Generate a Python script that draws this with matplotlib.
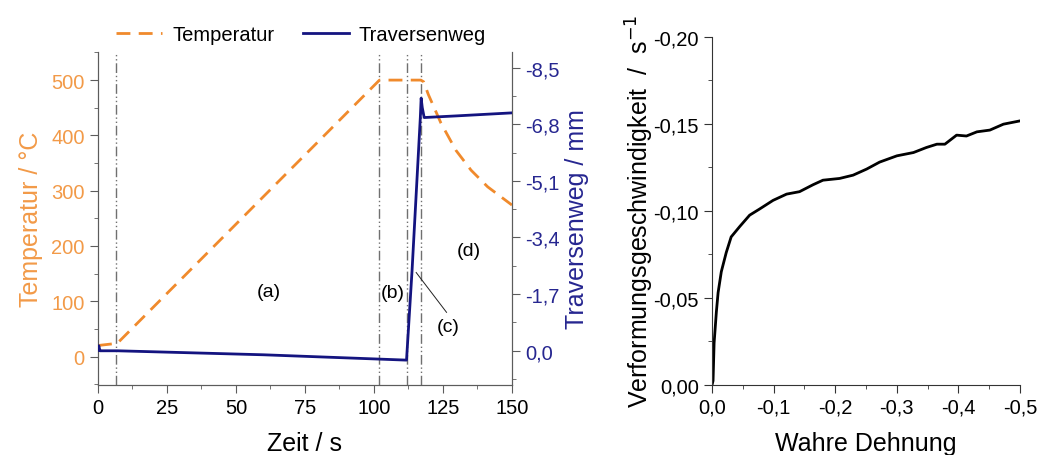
import matplotlib
matplotlib.use("Agg")
import matplotlib.pyplot as plt
from matplotlib.ticker import FixedLocator, MultipleLocator, FuncFormatter
from matplotlib.lines import Line2D

plt.rcParams["font.family"] = ["Liberation Sans", "DejaVu Sans"]

# --- left panel data -------------------------------------------------------
temp_t = [0, 7, 102, 117, 118, 119.7, 124.3, 129.7, 135.2, 141.2, 150]
temp_c = [20, 24, 500, 500, 497, 474, 422, 373, 337, 307, 274]

trav_t = [0, 0.3, 0.7, 1.2, 7, 60, 111.8, 113.8, 116.8, 117.1, 117.5, 118.2, 130, 150]
trav_mm = [-0.02, -0.15, 0.0, 0.0, 0.0, 0.12, 0.28, -2.4, -7.0, -7.58, -7.3, -7.0, -7.05, -7.14]

phase_lines = [6.7, 102, 112, 117]
phase_labels = ["(a)", "(b)", "(c)", "(d)"]
phase_label_pos = [(62, 118), (106.8, 116), (127, 55), (134.3, 191)]

trav_ticks = [0.0, -1.7, -3.4, -5.1, -6.8, -8.5]

# --- right panel data ------------------------------------------------------
strain = [0.0, -0.0016, -0.0033, -0.007, -0.0098, -0.015, -0.023, -0.031, -0.045,
          -0.061, -0.077, -0.099, -0.121, -0.142, -0.164, -0.18, -0.207, -0.229,
          -0.251, -0.272, -0.30, -0.327, -0.348, -0.365, -0.378, -0.397, -0.413,
          -0.43, -0.451, -0.473, -0.50]
rate = [0.0, -0.0023, -0.024, -0.042, -0.053, -0.065, -0.076, -0.085, -0.091,
        -0.0975, -0.101, -0.106, -0.1096, -0.111, -0.115, -0.1176, -0.1186, -0.1205,
        -0.124, -0.128, -0.1316, -0.1335, -0.1364, -0.1383, -0.1383, -0.1435, -0.143,
        -0.1454, -0.1464, -0.1498, -0.1517]

ORANGE = "#F08A2C"
ORANGE_TXT = "#F29A48"
NAVY = "#141480"
NAVY_TXT = "#262690"
SPINE = "#5c5c5c"
TICK_FS = 14.5
LABEL_FS = 18


def comma(fmt):
    return FuncFormatter(lambda v, pos: format(v, fmt).replace(".", ","))


fig = plt.figure(figsize=(10.38, 4.56), dpi=100)

# left panel
ax = fig.add_axes([0.0944, 0.154, 0.3988, 0.730])
ax2 = ax.twinx()

for x in phase_lines:
    ax.axvline(x, color="#707070", lw=1.0, ls=(0, (7, 2, 1, 2, 1, 2)), zorder=1)

ax.plot(temp_t, temp_c, color=ORANGE, lw=2, ls=(0, (5, 3)), zorder=3)
ax2.plot(trav_t, trav_mm, color=NAVY, lw=2, zorder=4)

ax.set_xlim(0, 150)
ax.set_ylim(-51, 551)
ax2.set_ylim(1.02, -8.97)

ax.xaxis.set_major_locator(MultipleLocator(25))
ax.xaxis.set_minor_locator(MultipleLocator(12.5))
ax.yaxis.set_major_locator(MultipleLocator(100))
ax.yaxis.set_minor_locator(MultipleLocator(50))
ax2.yaxis.set_major_locator(FixedLocator(trav_ticks))
ax2.yaxis.set_minor_locator(MultipleLocator(0.85))
ax2.yaxis.set_major_formatter(comma(".1f"))

for s in ("left", "bottom", "right"):
    ax.spines[s].set_color(SPINE)
    ax2.spines[s].set_color(SPINE)
ax.spines["top"].set_visible(False)
ax2.spines["top"].set_visible(False)

ax.tick_params(axis="both", which="both", direction="out", color=SPINE, labelsize=TICK_FS)
ax.tick_params(which="major", length=6)
ax.tick_params(which="minor", length=3)
ax.tick_params(axis="y", labelcolor=ORANGE_TXT)
ax2.tick_params(axis="y", which="both", direction="out", color=SPINE,
                labelsize=TICK_FS, labelcolor=NAVY_TXT)
ax2.tick_params(which="major", length=6)
ax2.tick_params(which="minor", length=3)

ax.set_xlabel("Zeit / s", fontsize=LABEL_FS, labelpad=10)
ax.set_ylabel("Temperatur / °C", fontsize=LABEL_FS, color=ORANGE_TXT, labelpad=6)
ax2.set_ylabel("Traversenweg / mm", fontsize=LABEL_FS, color=NAVY_TXT, labelpad=4)

for lab, (tx, ty) in zip(phase_labels, phase_label_pos):
    ax.text(tx, ty, lab, fontsize=14, ha="center", va="center", zorder=5)
ax.plot([126.3, 115.3], [80, 152], color="#222222", lw=0.7, zorder=5)

handles = [Line2D([], [], color=ORANGE, lw=2, ls=(0, (5, 3))),
           Line2D([], [], color=NAVY, lw=2)]
fig.legend(handles, ["Temperatur", "Traversenweg"], loc="center",
           bbox_to_anchor=(0.29, 0.922), ncol=2, frameon=False, fontsize=14.5,
           handlelength=2.3, handletextpad=0.5, columnspacing=1.4)

# right panel
bx = fig.add_axes([0.686, 0.154, 0.2967, 0.763])
bx.plot(strain, rate, color="black", lw=2)
bx.set_xlim(0, -0.5)
bx.set_ylim(0, -0.2)
bx.xaxis.set_major_locator(MultipleLocator(0.1))
bx.xaxis.set_minor_locator(MultipleLocator(0.05))
bx.yaxis.set_major_locator(MultipleLocator(0.05))
bx.yaxis.set_minor_locator(MultipleLocator(0.025))
bx.xaxis.set_major_formatter(comma(".1f"))
bx.yaxis.set_major_formatter(comma(".2f"))
bx.spines["top"].set_visible(False)
bx.spines["right"].set_visible(False)
for s in ("left", "bottom"):
    bx.spines[s].set_color("#333333")
bx.tick_params(axis="both", which="both", direction="out", color="#333333", labelsize=TICK_FS)
bx.tick_params(which="major", length=6)
bx.tick_params(which="minor", length=3)
bx.set_xlabel("Wahre Dehnung", fontsize=LABEL_FS, labelpad=10)
bx.set_ylabel("Verformungsgeschwindigkeit  /  s$^{-1}$", fontsize=LABEL_FS, labelpad=-2)

fig.savefig("out.png", dpi=100)
